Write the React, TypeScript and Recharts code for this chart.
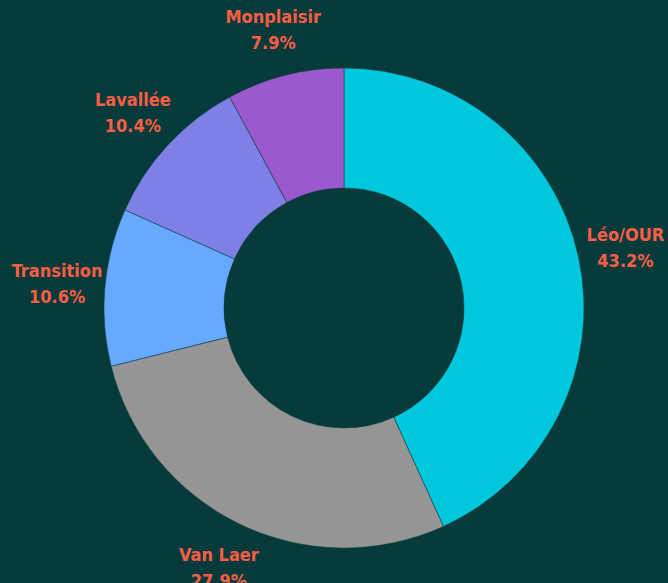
import { PieChart, Pie, Cell } from 'recharts';

const districts = ['Léo/OUR', 'Van Laer', 'Transition', 'Lavallée', 'Monplaisir'];
const shares = [43.2, 27.9, 10.6, 10.4, 7.9];
const colors = ['#00c8dc', '#959595', '#66aaff', '#7f80e6', '#9a59cc'];

const data = districts.map((name, i) => ({ name, value: shares[i] }));

const RADIAN = Math.PI / 180;

function renderLabel(props: any) {
  const { cx, cy, midAngle, outerRadius, name, value } = props;
  const r = outerRadius + 48;
  const x = cx + r * Math.cos(-midAngle * RADIAN);
  const y = cy + r * Math.sin(-midAngle * RADIAN);
  return (
    <text
      x={x}
      y={y}
      textAnchor="middle"
      fill="#fb5e45"
      fontFamily="'Liberation Sans Narrow', 'DejaVu Sans Condensed', sans-serif"
      fontWeight="bold"
      fontSize={18}
    >
      <tspan x={x} dy={-6}>{name}</tspan>
      <tspan x={x} dy={26}>{value.toFixed(1)}%</tspan>
    </text>
  );
}

export default function App() {
  return (
    <div style={{ position: 'absolute', left: 0, top: 0, width: 668, height: 583, background: '#063a3b' }}>
      <PieChart width={668} height={583} margin={{ top: 0, right: 0, bottom: 0, left: 0 }}>
        <Pie
          data={data}
          dataKey="value"
          nameKey="name"
          cx={344}
          cy={308}
          innerRadius={120}
          outerRadius={240}
          startAngle={90}
          endAngle={-270}
          stroke="#063a3b"
          strokeWidth={0.5}
          label={renderLabel}
          labelLine={false}
          isAnimationActive={false}
        >
          {data.map((d, i) => (
            <Cell key={d.name} fill={colors[i]} />
          ))}
        </Pie>
      </PieChart>
    </div>
  );
}
